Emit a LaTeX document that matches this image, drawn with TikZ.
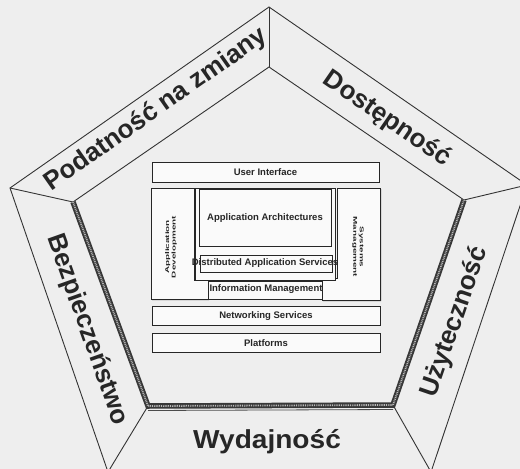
\documentclass[tikz,border=0pt]{standalone}
\usepackage{fontspec}
\setmainfont{Liberation Sans}
\usetikzlibrary{shadows}
\begin{document}
\begin{tikzpicture}[x=1pt,y=-1pt,
  edge/.style={draw=black!80,line width=0.9pt},
  band/.style={line width=5.5pt,draw=black!78},
  banddots/.style={line width=1.8pt,draw=gray!55,dash pattern=on 0.9pt off 0.9pt},
  lbl/.style={font=\fontsize{26}{26}\selectfont\bfseries,text=black!85,inner sep=0pt},
  boxst/.style={draw=black!85,line width=0.8pt,fill=gray!4,drop shadow={shadow xshift=1pt,shadow yshift=-1pt,opacity=1,fill=black!80}},
  framest/.style={draw=black!85,line width=0.8pt},
  btext/.style={font=\fontsize{9.5}{10}\selectfont\bfseries,text=black!85,inner sep=0pt},
  vtext/.style={font=\fontsize{5.5}{6.5}\selectfont\bfseries,text=black!85,inner sep=0pt,align=center},
]
\fill[gray!13] (0,0) rectangle (520,469);
\useasboundingbox (0,0) rectangle (520,469);
\begin{scope}
\clip (0,0) rectangle (520,469);
% pentagon corners
\coordinate (OT) at (269,7);
\coordinate (OUL) at (10,188);
\coordinate (OUR) at (527,185);
\coordinate (OBL) at (108,472);
\coordinate (OBR) at (431,472);
\coordinate (IT) at (269,67);
\coordinate (IUL) at (73,202);
\coordinate (IUR) at (464,200);
\coordinate (IBL) at (148,406);
\coordinate (IBR) at (393,405);
% outer pentagon
\draw[edge] (OT) -- (OUR) -- (OBR) -- (OBL) -- (OUL) -- cycle;
% inner upper edges
\draw[edge] (IUL) -- (IT) -- (IUR);
% radial lines
\draw[edge] (OT) -- (IT);
\draw[edge] (OUL) -- (IUL);
\draw[edge] (OUR) -- (IUR);
\draw[edge] (OBL) -- (IBL);
\draw[edge] (OBR) -- (IBR);
% hatched bands
\draw[band] (IUL) -- (IBL) -- (IBR) -- (IUR);
\draw[banddots] (IUL) -- (IBL) -- (IBR) -- (IUR);
\draw[draw=black!70,line width=0.8pt] ([yshift=-4.5pt]IBL) -- ([yshift=-4.5pt]IBR);
\end{scope}
% side labels
\node[lbl,rotate=35] (podatnosc) at (156,110) {Podatność na zmiany};
\node[lbl,rotate=-34.6] (dostepnosc) at (387,119) {Dostępność};
\node[lbl,rotate=-70.5] (bezp) at (87,330) {Bezpieczeństwo};
\node[lbl,rotate=71] (uzyt) at (455,322) {Użyteczność};
\node[lbl,anchor=base] (wyd) at (267,448) {\scalebox{1.08}[1]{Wydajność}};
% architecture boxes
\draw[boxst] (152,162) rectangle (379,182);
\node[btext] (ui) at (265.5,172) {User Interface};
\draw[boxst] (151,188) -- (194,188) -- (194,280) -- (208,280) -- (208,299) -- (151,299) -- cycle;
\node[vtext,rotate=90] (appdev) at (171,247) {\scalebox{1.8}[1]{Application}\\\scalebox{1.8}[1]{Development}};
\draw[boxst] (337,188) -- (380,188) -- (380,300) -- (322,300) -- (322,278) -- (337,278) -- cycle;
\node[vtext,rotate=-90] (sysmgmt) at (358,247) {\scalebox{1.8}[1]{Systems}\\\scalebox{1.8}[1]{Management}};
\draw[framest,fill=gray!4] (195,188) rectangle (335,280);
\draw[boxst] (199,189) rectangle (331,246);
\node[btext] (apparch) at (265,218) {Application Architectures};
\draw[boxst] (200,255) rectangle (332,272);
\node[btext] (das) at (265,263) {Distributed Application Services};
\draw[boxst] (208,281) rectangle (322,299);
\node[btext] (infomgmt) at (266,289) {Information Management};
\draw[boxst] (152,306) rectangle (380,325);
\node[btext] (net) at (266,316) {Networking Services};
\draw[boxst] (152,333) rectangle (380,352);
\node[btext] (plat) at (266,343) {Platforms};
\end{tikzpicture}
\end{document}
